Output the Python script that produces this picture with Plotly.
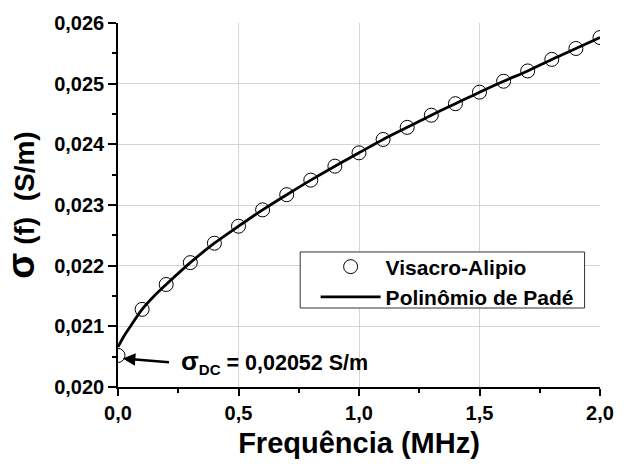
import plotly.graph_objects as go

# Data
freq_pts = [0.0, 0.1, 0.2, 0.3, 0.4, 0.5, 0.6, 0.7, 0.8, 0.9, 1.0,
            1.1, 1.2, 1.3, 1.4, 1.5, 1.6, 1.7, 1.8, 1.9, 2.0]
sigma_pts = [0.02052, 0.02128, 0.02169, 0.02205, 0.02237, 0.02265, 0.02292,
             0.02317, 0.02341, 0.02364, 0.02386, 0.02408, 0.02428, 0.02448,
             0.02467, 0.02486, 0.02504, 0.02521, 0.02540, 0.02558, 0.02576]

freq_line = [0.0, 0.025, 0.05, 0.1, 0.15, 0.2, 0.3, 0.4, 0.5, 0.6, 0.7, 0.8,
             0.9, 1.0, 1.1, 1.2, 1.3, 1.4, 1.5, 1.6, 1.7, 1.8, 1.9, 2.0]
sigma_line = [0.02066, 0.02084, 0.02099, 0.02128, 0.02150, 0.02169, 0.02205,
              0.02237, 0.02265, 0.02292, 0.02317, 0.02341, 0.02364, 0.02386,
              0.02408, 0.02428, 0.02448, 0.02467, 0.02486, 0.02504, 0.02521,
              0.02540, 0.02558, 0.02576]

FONT = "Arial, Liberation Sans, sans-serif"

fig = go.Figure()
fig.add_trace(go.Scatter(
    x=freq_pts, y=sigma_pts, mode="markers", name="Visacro-Alipio",
    marker=dict(symbol="circle-open", size=14, color="black",
                line=dict(width=1, color="black")),
))
fig.add_trace(go.Scatter(
    x=freq_line, y=sigma_line, mode="lines", name="Polinômio de Padé",
    line=dict(color="black", width=2.8, shape="spline"),
))

axis_common = dict(
    showline=True, linecolor="black", linewidth=1.5,
    ticks="outside", tickcolor="black", tickwidth=1.5,
    showgrid=True, gridcolor="#d4d4d4", gridwidth=1,
    zeroline=False, mirror=False, ticklabeloverflow="allow",
    tickfont=dict(family=FONT, size=20, color="black", weight="bold"),
)

fig.update_xaxes(
    range=[0, 2.0], dtick=0.5, tickformat=".1f", ticklen=7,
    minor=dict(dtick=0.25, ticks="outside", ticklen=4, tickcolor="black",
               tickwidth=1.5, showgrid=False),
    title=dict(text="Frequência (MHz)", standoff=10,
               font=dict(family=FONT, size=29, color="black", weight="bold")),
    **axis_common,
)
fig.update_yaxes(
    range=[0.020, 0.026], dtick=0.001, tickformat=".3f", ticklen=8,
    minor=dict(dtick=0.0005, ticks="outside", ticklen=4, tickcolor="black",
               tickwidth=1.5, showgrid=False),
    title=dict(text="<span style='font-size:38px'>σ</span>&nbsp;(f)&nbsp;&nbsp;(S/m)",
               standoff=16,
               font=dict(family=FONT, size=28, color="black", weight="bold")),
    **axis_common,
)

fig.add_annotation(
    x=0.02, y=0.02047, ax=0.218, ay=0.020406, axref="x", ayref="y",
    xref="x", yref="y", text="", showarrow=True,
    arrowhead=2, arrowsize=1, arrowwidth=2.5, arrowcolor="black",
)
fig.add_annotation(
    x=0.255, y=0.020413, xref="x", yref="y", xanchor="left", yanchor="middle",
    text="<span style='font-size:26px'>σ</span><sub>DC</sub> = 0,02052 S/m",
    showarrow=False,
    font=dict(family=FONT, size=21.5, color="black", weight="bold"),
)

# legend frame
fig.add_shape(
    type="rect", xref="paper", yref="paper",
    x0=0.378, x1=0.968, y0=0.217, y1=0.371,
    line=dict(color="#333333", width=1), fillcolor="white", layer="above",
)

fig.update_layout(
    width=626, height=466,
    margin=dict(l=118, r=13, t=20, b=77),
    paper_bgcolor="white", plot_bgcolor="white",
    separators=",.",
    showlegend=True,
    legend=dict(
        x=0.41, y=0.386, xanchor="left", yanchor="top",
        bgcolor="rgba(0,0,0,0)", borderwidth=0,
        itemwidth=60, tracegroupgap=0,
        font=dict(family=FONT, size=21, color="black", weight="bold"),
    ),
)

fig.write_html("out.html")
